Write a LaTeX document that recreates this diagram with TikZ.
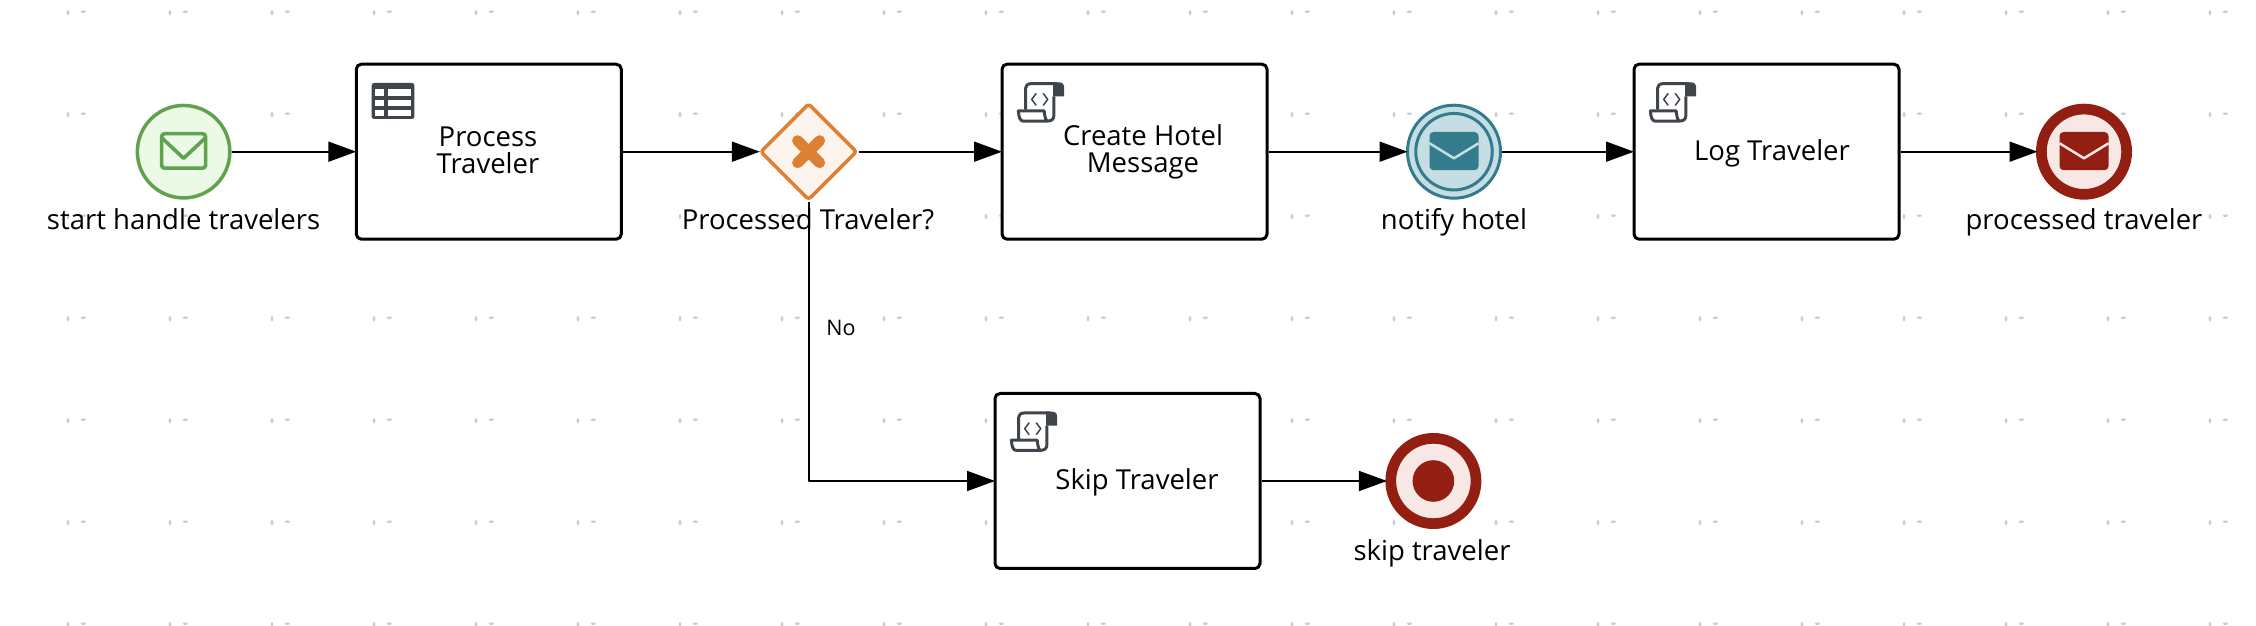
\documentclass[tikz,border=0pt]{standalone}
\usepackage{fontspec}
\setmainfont{Open Sans}
\usetikzlibrary{arrows.meta,shapes.geometric}

\tikzset{
  taskbox/.style={draw=black,fill=white,line width=3bp,rounded corners=5bp,inner sep=0pt,
    minimum width=265bp,minimum height=175bp},
  tasktext/.style={align=center,inner sep=0pt,font=\fontsize{27.5bp}{26.7bp}\selectfont},
  eventtext/.style={anchor=base,inner sep=0pt,font=\fontsize{27.5bp}{26.7bp}\selectfont},
  startevent/.style={circle,draw=startline,fill=startfill,line width=3.5bp,inner sep=0pt,minimum size=92.5bp},
  throwevent/.style={circle,draw=throwline,fill=throwfill,line width=3bp,inner sep=0pt,minimum size=93bp},
  endevent/.style={circle,draw=endline,fill=endfill,line width=10.7bp,inner sep=0pt,minimum size=85.3bp},
  xorgateway/.style={diamond,aspect=1,draw=gateline,fill=gatefill,line width=3.5bp,rounded corners=3bp,
    inner sep=0pt,minimum size=97bp},
  flow/.style={->,line width=1.8bp,black,shorten >=-1.5bp},
}

\newcommand{\scripticon}[1]{
  \begin{scope}[shift={(#1.north west)},xshift=16.7bp,yshift=-19.7bp,draw=icongray,line width=3bp,line join=round]
    \fill[icongray] (36bp,0bp) -- (42bp,0bp) .. controls (45.5bp,0bp) and (47bp,-2bp) .. (47bp,-6bp)
      -- (47bp,-14bp) -- (36bp,-14bp) -- cycle;
    \draw (8.3bp,-27.3bp) -- (8.3bp,-6bp) .. controls (8.3bp,-3bp) and (10.5bp,-1.3bp) .. (14bp,-1.3bp) -- (40bp,-1.3bp);
    \draw (36.7bp,-14bp) -- (36.7bp,-33bp) .. controls (36.7bp,-37bp) and (34bp,-38.7bp) .. (30bp,-38.7bp)
      -- (6bp,-38.7bp) .. controls (3bp,-38.7bp) and (1.5bp,-35bp) .. (1.2bp,-28.5bp) -- (27bp,-28.5bp)
      .. controls (27.5bp,-33bp) and (28bp,-37bp) .. (30bp,-38.7bp);
    \draw[line width=1.5bp] (19bp,-11bp) -- (14.5bp,-17bp) -- (19bp,-23bp);
    \draw[line width=1.5bp] (26bp,-11bp) -- (30.5bp,-17bp) -- (26bp,-23bp);
  \end{scope}
}
\newcommand{\mailicon}[3]{
  \begin{scope}[shift={(#1.center)}]
    \fill[#2,rounded corners=4bp] (-24.5bp,19.7bp) rectangle (24.5bp,-18.5bp);
    \draw[#3,line width=2.5bp] (-24.5bp,8.4bp) -- (0bp,-6.6bp) -- (24.5bp,8.4bp);
  \end{scope}
}

\begin{document}
\begin{tikzpicture}[>={Triangle[length=28bp,width=20bp]},line join=round]
\definecolor{startline}{RGB}{95,163,79}
\definecolor{startfill}{RGB}{235,249,230}
\definecolor{throwline}{RGB}{52,124,140}
\definecolor{throwfill}{RGB}{197,222,227}
\definecolor{endline}{RGB}{147,30,18}
\definecolor{endfill}{RGB}{247,232,230}
\definecolor{gateline}{RGB}{221,128,51}
\definecolor{gatefill}{RGB}{253,245,237}
\definecolor{icongray}{RGB}{63,69,75}
\definecolor{griddot}{RGB}{205,205,205}
\useasboundingbox (0bp,0bp) rectangle (2256bp,626bp);

% Grid
\foreach \col in {0,...,21} {
  \foreach \row in {0,...,6} {
    \fill[griddot] (68bp+\col*102bp,613.3bp-\row*102bp) ellipse (1.4bp and 2.6bp);
    \fill[griddot] (83.3bp+\col*102bp,614.3bp-\row*102bp) ellipse (2.6bp and 1.3bp);
  }
}

% Node: StartHandle
\node[startevent] (starthandle) at (183.6bp,474.3bp) {};
\begin{scope}[shift={(starthandle.center)}]
  \draw[startline,line width=3.6bp,rounded corners=3bp] (-22bp,18bp) rectangle (22bp,-16.5bp);
  \draw[startline,line width=3.6bp] (-22bp,14bp) -- (0bp,-6.6bp) -- (22bp,14bp);
\end{scope}

% Node: ProcessTraveler
\node[taskbox] (processtraveler) at (488.8bp,474.3bp) {};
\begin{scope}[shift={(processtraveler.north west)},xshift=16.8bp,yshift=-20.3bp]
  \fill[icongray,rounded corners=2.5bp] (0bp,0bp) rectangle (42.8bp,-36bp);
  \foreach \rowtop/\rowbot in {6/12.7,16.7/23.3,26.7/33.3} {
    \fill[white] (3bp,-\rowtop bp) rectangle (12.7bp,-\rowbot bp);
    \fill[white] (16.3bp,-\rowtop bp) rectangle (39.7bp,-\rowbot bp);
  }
\end{scope}

% Node: ProcessedGateway
\node[xorgateway] (processedgateway) at (808.6bp,474.3bp) {};
\draw[gateline,line width=11bp,line cap=round] (797.6bp,463.3bp) -- (819.6bp,485.3bp);
\draw[gateline,line width=11bp,line cap=round] (797.6bp,485.3bp) -- (819.6bp,463.3bp);

% Node: CreateHotelMessage
\node[taskbox] (createhotel) at (1134.5bp,474.3bp) {};
\scripticon{createhotel}

% Node: NotifyHotel
\node[throwevent] (notifyhotel) at (1454bp,474.3bp) {};
\node[circle,draw=throwline,line width=3bp,inner sep=0pt,minimum size=76.5bp] (notifyring) at (notifyhotel.center) {};
\mailicon{notifyhotel}{throwline}{throwfill}

% Node: LogTraveler
\node[taskbox] (logtraveler) at (1766.5bp,474.3bp) {};
\scripticon{logtraveler}

% Node: ProcessedEnd
\node[endevent] (processedend) at (2084bp,474.3bp) {};
\mailicon{processedend}{endline}{endfill}

% Node: SkipTraveler
\node[taskbox] (skiptraveler) at (1127.5bp,145bp) {};
\scripticon{skiptraveler}

% Node: SkipEnd
\node[endevent] (skipend) at (1433.4bp,145bp) {};
\node[circle,fill=endline,inner sep=0pt,minimum size=41.6bp] (skipdot) at (skipend.center) {};

% Edge: StartHandle -> ProcessTraveler
\draw[flow] (starthandle.east) -- (processtraveler.west);

% Edge: ProcessTraveler -> ProcessedGateway
\draw[flow] (processtraveler.east) -- (processedgateway.west);

% Edge: ProcessedGateway -> CreateHotelMessage
\draw[flow] (processedgateway.east) -- (createhotel.west);

% Edge: CreateHotelMessage -> NotifyHotel
\draw[flow] (createhotel.east) -- (notifyhotel.west);

% Edge: NotifyHotel -> LogTraveler
\draw[flow] (notifyhotel.east) -- (logtraveler.west);

% Edge: LogTraveler -> ProcessedEnd
\draw[flow] (logtraveler.east) -- (processedend.west);

% Edge: ProcessedGateway -> SkipTraveler
\draw[flow] (processedgateway.south) |- (skiptraveler.west);
\node[inner sep=0pt,font=\fontsize{21.5bp}{24bp}\selectfont] (nolabel) at (841bp,298bp) {No};

% Edge: SkipTraveler -> SkipEnd
\draw[flow] (skiptraveler.east) -- (skipend.west);

% Labels
\node[eventtext] (starttext) at (183.6bp,396.5bp) {start handle travelers};
\node[tasktext] (processtext) at (488bp,475.8bp) {Process\\Traveler};
\node[eventtext] (gatewaytext) at (808bp,396.5bp) {Processed Traveler?};
\node[tasktext] (createtext) at (1143bp,474.3bp) {Create Hotel\\Message};
\node[eventtext] (notifytext) at (1454bp,396.5bp) {notify hotel};
\node[tasktext] (logtext) at (1772bp,472.8bp) {Log Traveler};
\node[eventtext] (processedtext) at (2084bp,396.5bp) {processed traveler};
\node[tasktext] (skiptext) at (1137bp,143.5bp) {Skip Traveler};
\node[eventtext] (skipendtext) at (1432bp,65.5bp) {skip traveler};
%
\end{tikzpicture}
\end{document}
